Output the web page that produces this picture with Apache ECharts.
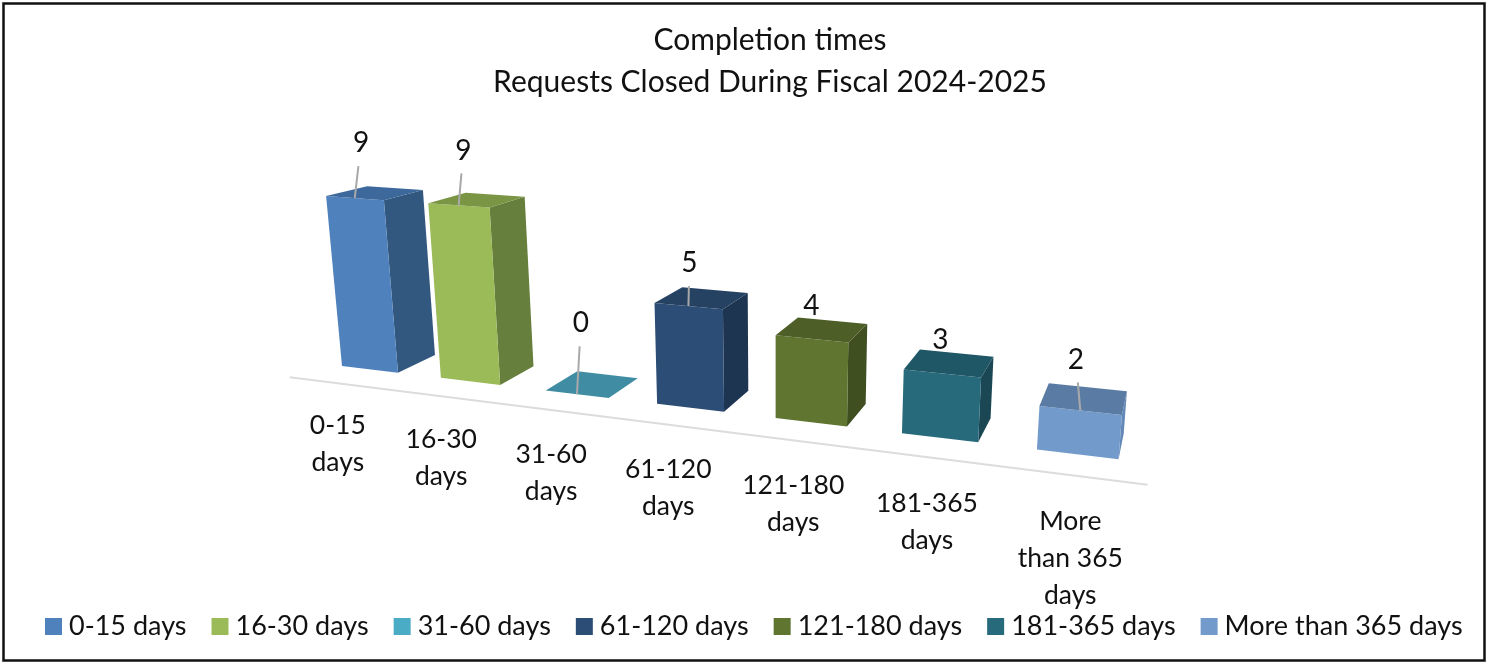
<!DOCTYPE html>
<html>
<head>
<meta charset="utf-8">
<style>html,body{margin:0;padding:0;background:#fff}#c{width:1489px;height:666px}</style>
<script src="https://cdn.jsdelivr.net/npm/echarts@6/dist/echarts.min.js"></script>
</head>
<body>
<div id="c"></div>
<script>
// ---- data ----
const categories = ['0-15 days','16-30 days','31-60 days','61-120 days','121-180 days','181-365 days','More than 365 days'];
const tickLabels = ['0-15\ndays','16-30\ndays','31-60\ndays','61-120\ndays','121-180\ndays','181-365\ndays','More\nthan 365\ndays'];
const values = [9,9,0,5,4,3,2];
const titleLines = ['Completion times','Requests Closed During Fiscal 2024-2025'];

// ---- styles ----
const legendColors = ['#4F81BD','#9BBB59','#4BACC6','#2C4D75','#5F7530','#276A7C','#729ACA'];
const frontColors  = ['#4F81BD','#9BBB59','#3F8CA3','#2C4D75','#5F7530','#276A7C','#729ACA'];
const sideColors   = ['#33587F','#677F3C','#2F6F82','#1E3552','#3F4F20','#1A4753','#6288B8'];
const topColors    = ['#3C689C','#7A9645','#3F8CA3','#254263','#4D5F27','#205766','#5A7BA3'];
const labelLift    = [55,55,71,43,33,34,51];
const FONT = 'Lato';

// ---- camera: vanishing points of the row, the height and the depth ----
const VP_ROW = [-3040,-40], VP_UP = [775,5000], VP_DEPTH = [1213,-15], ORIGIN = [342,366];
const K_ROW = -0.02841, K_UP = -0.00393, K_DEPTH = 0.0468;
const BAR_W = 0.573, BAR_D = 1, AXIS_Z = -0.75;

function project(X,Y,Z){
  const a=K_ROW*X, b=K_UP*Y, c=K_DEPTH*Z, w=1+a+b+c;
  return [(a*VP_ROW[0]+b*VP_UP[0]+c*VP_DEPTH[0]+ORIGIN[0])/w,
          (a*VP_ROW[1]+b*VP_UP[1]+c*VP_DEPTH[1]+ORIGIN[1])/w];
}
// convert a chart value to camera-world units via the cartesian scales
function toWorld(api,cat,val){
  const o=api.coord([0,0]), u=api.coord([1,1]), p=api.coord([cat,val]);
  return [(p[0]-o[0])/(u[0]-o[0]), (p[1]-o[1])/(u[1]-o[1])];
}
function poly(points,color){
  return {type:'polygon',shape:{points},style:{fill:color},silent:true};
}
function barItem(i){
  return function(params,api){
    const [X,Y]=toWorld(api,api.value(0),api.value(1));
    const XR=X+BAR_W, kids=[];
    const P=(x,y,z)=>project(x,y,z);
    if(Y>0){
      kids.push(poly([P(XR,0,0),P(XR,0,BAR_D),P(XR,Y,BAR_D),P(XR,Y,0)],sideColors[i]));
      kids.push(poly([P(X,0,0),P(XR,0,0),P(XR,Y,0),P(X,Y,0)],frontColors[i]));
    }
    kids.push(poly([P(X,Y,0),P(XR,Y,0),P(XR,Y,BAR_D),P(X,Y,BAR_D)],topColors[i]));
    // leader + value label: leans away from the chart's centre line as it rises
    const a=P(X+BAR_W/2,Y,0), dx=a[0]-VP_UP[0], dy=a[1]-VP_UP[1], d=Math.hypot(dx,dy);
    const lift=labelLift[i], at=l=>[a[0]-1.3*dx/d*l,a[1]+dy/d*l];
    if(lift>=40){
      const e=at(lift-23);
      kids.push({type:'line',shape:{x1:a[0],y1:a[1],x2:e[0],y2:e[1]},style:{stroke:'#a9a9a9',lineWidth:2},silent:true});
    }
    const t=at(lift);
    kids.push({type:'text',x:t[0],y:t[1],style:{text:String(api.value(1)),fill:'#111',font:'28px '+FONT,align:'center',verticalAlign:'middle'},silent:true});
    return {type:'group',children:kids};
  };
}
function axisItem(params,api){
  const [X]=toWorld(api,api.value(0),0), kids=[];
  if(params.dataIndex===0){
    const s=project(-0.21,0,AXIS_Z), e=project(6.79,0,AXIS_Z);
    kids.push({type:'line',shape:{x1:s[0],y1:s[1],x2:e[0],y2:e[1]},style:{stroke:'#dcdcdc',lineWidth:2},silent:true});
  }
  const p=project(X+BAR_W/2,0,AXIS_Z);
  kids.push({type:'text',x:p[0]-1,y:p[1]+24+X*0.65,style:{text:tickLabels[params.dataIndex],fill:'#111',font:'26.5px '+FONT,lineHeight:37,align:'center',verticalAlign:'top'},silent:true});
  return {type:'group',children:kids};
}

const series=[{
  type:'custom',name:'axis',silent:true,z:1,
  data:categories.map((c,i)=>[i]),
  encode:{x:0},
  renderItem:axisItem
}];
categories.forEach((name,i)=>{
  series.push({
    type:'custom',name,silent:true,z:2,
    itemStyle:{color:legendColors[i]},
    data:[[i,values[i]]],
    encode:{x:0,y:1},
    renderItem:barItem(i)
  });
});

const chart=echarts.init(document.getElementById('c'),null,{renderer:'canvas'});
chart.setOption({
  animation:false,
  backgroundColor:'#fff',
  title:{text:titleLines.join('\n'),left:765,top:14,textAlign:'center',
    textStyle:{fontFamily:FONT,fontWeight:'normal',fontSize:30,lineHeight:42,color:'#111'}},
  legend:{data:categories,left:40,top:608,itemWidth:17,itemHeight:17,itemGap:25,icon:'rect',selectedMode:false,
    width:1445,textStyle:{fontFamily:FONT,fontSize:27,color:'#111',padding:[0,0,0,2]}},
  grid:{left:100,right:100,top:100,bottom:100},
  xAxis:{type:'category',data:categories,show:false},
  yAxis:{type:'value',min:0,max:10,interval:1,show:false},
  graphic:[{type:'rect',shape:{x:3.5,y:3.5,width:1481,height:657},style:{fill:'none',stroke:'#111',lineWidth:2.5},silent:true,z:100}],
  series
});
</script>
</body>
</html>
